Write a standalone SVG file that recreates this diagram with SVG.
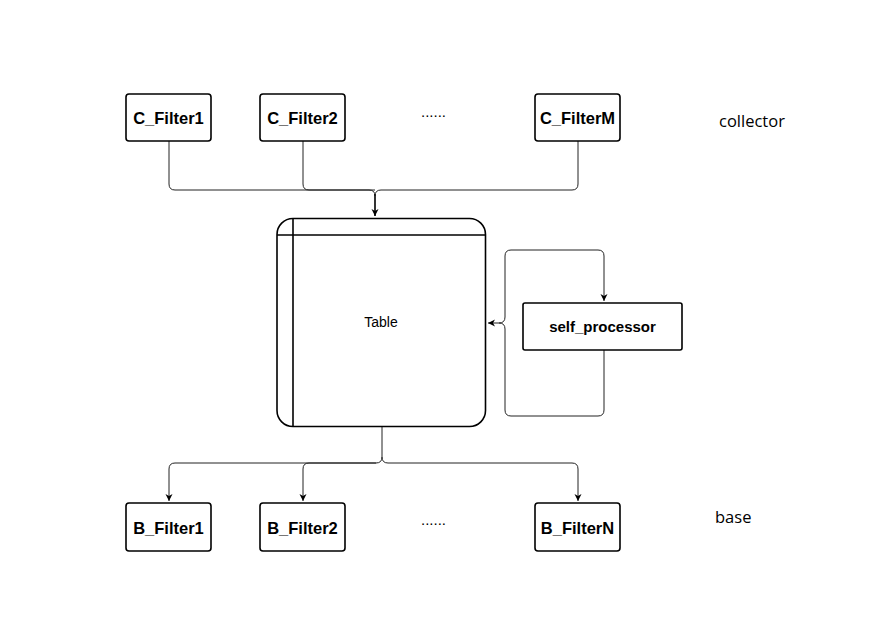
<svg xmlns="http://www.w3.org/2000/svg" width="885" height="635" viewBox="0 0 885 635">
<style>
.box{fill:#fff;stroke:#000;stroke-width:1.6}
.lbl{font-family:"Liberation Sans",Arial,sans-serif;font-weight:bold;font-size:16.5px;text-anchor:middle;fill:#000}
.edge{fill:none;stroke:#222;stroke-width:1}
.note{font-family:"Open Sans","Noto Sans",sans-serif;font-size:16.5px;fill:#000}
.dots{font-family:"Liberation Sans",Arial,sans-serif;font-size:15px;fill:#000}
</style>
<defs>
<marker id="arr" markerWidth="8" markerHeight="8" refX="7" refY="4" orient="auto" markerUnits="userSpaceOnUse">
<path d="M0,0.5 L7,4 L0,7.5 L2,4 Z" fill="#000"/>
</marker>
</defs>
<rect width="885" height="635" fill="#fff"/>
<g id="connectors">
<path class="edge" d="M169,141 V184 Q169,190 175,190 H369 Q375,190 375,196"/>
<path class="edge" d="M375,194 V216" marker-end="url(#arr)" style="stroke-width:1.6;stroke:#000"/>
<path class="edge" d="M303,141 V184 Q303,190 309,190 H375"/>
<path class="edge" d="M578,141 V184 Q578,190 572,190 H381 Q375,190 375,196"/>
<path class="edge" d="M382,427 V457 Q382,463 376,463 H175 Q169,463 169,469 V501" marker-end="url(#arr)"/>
<path class="edge" d="M376,463 H309 Q303,463 303,469 V501" marker-end="url(#arr)"/>
<path class="edge" d="M382,457 Q382,463 388,463 H572 Q578,463 578,469 V501" marker-end="url(#arr)"/>
<path class="edge" d="M604,350 V410 Q604,416 598,416 H511 Q505,416 505,410 V329 Q505,323 499,323 H488" marker-end="url(#arr)"/>
<path class="edge" d="M499,323 Q505,323 505,317 V256 Q505,250 511,250 H598 Q604,250 604,256 V301" marker-end="url(#arr)"/>
</g>
<g id="C_Filter1"><rect class="box" x="126" y="94" width="85" height="47" rx="3"/><text class="lbl" x="168.5" y="124">C_Filter1</text></g>
<g id="C_Filter2"><rect class="box" x="260" y="94" width="85" height="47" rx="3"/><text class="lbl" x="302.5" y="124">C_Filter2</text></g>
<g id="C_dots"><text class="dots" x="421" y="117">......</text></g>
<g id="C_FilterM"><rect class="box" x="535" y="94" width="85" height="47" rx="3"/><text class="lbl" x="577.5" y="124">C_FilterM</text></g>
<g id="collector"><text class="note" x="719" y="127">collector</text></g>
<g id="Table">
<rect class="box" x="277" y="218.5" width="208.5" height="208" rx="16"/>
<line x1="277" y1="235" x2="485.5" y2="235" stroke="#000" stroke-width="1.6"/>
<line x1="293" y1="218.5" x2="293" y2="426.5" stroke="#000" stroke-width="1.6"/>
<text x="381" y="327" font-family="'Liberation Sans',Arial,sans-serif" font-size="14" text-anchor="middle">Table</text>
</g>
<g id="self_processor"><rect class="box" x="523" y="303" width="159" height="47" rx="2"/><text class="lbl" x="602.5" y="332" style="font-size:15px">self_processor</text></g>
<g id="B_Filter1"><rect class="box" x="126" y="503" width="85" height="48" rx="3"/><text class="lbl" x="168.5" y="534">B_Filter1</text></g>
<g id="B_Filter2"><rect class="box" x="260" y="503" width="85" height="48" rx="3"/><text class="lbl" x="302.5" y="534">B_Filter2</text></g>
<g id="B_dots"><text class="dots" x="421" y="525">......</text></g>
<g id="B_FilterN"><rect class="box" x="535" y="503" width="85" height="48" rx="3"/><text class="lbl" x="577.5" y="534">B_FilterN</text></g>
<g id="base"><text class="note" x="715" y="523">base</text></g>
</svg>
